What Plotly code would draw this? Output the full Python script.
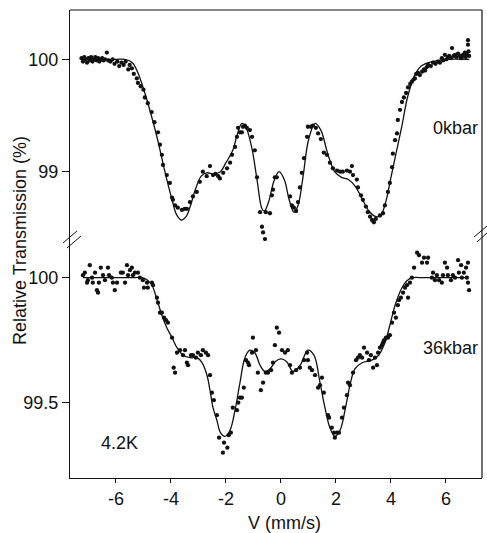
import plotly.graph_objects as go

# ---------------- data: Mössbauer spectra at 4.2 K ----------------
# 0 kbar: measured points
V0 = [-7.25, -7.2, -7.15, -7.1, -7.05, -7.0, -6.95, -6.9, -6.85, -6.8, -6.75, -6.7, -6.65, -6.6,
      -6.55, -6.5, -6.45, -6.4, -6.33, -6.28, -6.2, -6.12, -6.05, -5.95, -5.88, -5.8, -5.72, -5.65,
      -5.55, -5.5, -5.42, -5.35, -5.24, -5.2, -5.1, -5.0, -4.95, -4.84, -4.7, -4.6, -4.47, -4.4,
      -4.33, -4.29, -4.15, -4.04, -3.96, -3.93, -3.85, -3.75, -3.6, -3.5, -3.42, -3.31, -3.2, -3.06,
      -2.95, -2.84, -2.7, -2.58, -2.47, -2.38, -2.28, -2.22, -2.1, -1.96, -1.85, -1.78, -1.67, -1.6,
      -1.56, -1.49, -1.42, -1.38, -1.31, -1.24, -1.13, -1.05, -0.95, -0.87, -0.76, -0.69, -0.65,
      -0.58, -0.55, -0.4, -0.33, -0.29, -0.22, -0.15, 0.33, 0.4, 0.47, 0.55, 0.62, 0.69, 0.76, 0.84,
      0.95, 0.98, 1.09, 1.16, 1.27, 1.35, 1.45, 1.56, 1.67, 1.78, 1.89, 2.04, 2.15, 2.25, 2.4, 2.51,
      2.58, 2.62, 2.76, 2.8, 2.91, 2.98, 3.09, 3.16, 3.24, 3.31, 3.38, 3.45, 3.6, 3.71, 3.78, 3.89,
      3.96, 4.04, 4.07, 4.15, 4.22, 4.25, 4.33, 4.4, 4.47, 4.55, 4.62, 4.7, 4.76, 4.82, 4.87, 4.92,
      4.98, 5.05, 5.13, 5.2, 5.24, 5.3, 5.35, 5.45, 5.53, 5.62, 5.71, 5.78, 5.85, 5.9, 5.96, 6.02,
      6.07, 6.12, 6.18, 6.22, 6.28, 6.33, 6.38, 6.44, 6.5, 6.55, 6.58, 6.62, 6.69, 6.72, 6.76, 6.8,
      6.8, 6.82, 6.84]
T0 = [100.01, 99.98, 100.02, 100.0, 99.97, 100.01, 99.99, 100.02, 99.98, 100.0, 100.02, 99.99,
      100.01, 99.98, 100.0, 100.01, 99.99, 100.0, 100.06, 99.99, 99.98, 100.0, 99.96, 99.98, 99.94,
      99.97, 99.95, 99.98, 99.91, 99.95, 99.92, 99.87, 99.83, 99.79, 99.76, 99.73, 99.66, 99.61,
      99.53, 99.44, 99.35, 99.24, 99.15, 99.06, 98.97, 98.9, 98.77, 98.75, 98.7, 98.68, 98.66,
      98.67, 98.67, 98.73, 98.78, 98.82, 98.91, 99.0, 98.96, 99.05, 98.97, 98.98, 98.96, 98.94,
      98.99, 99.03, 99.08, 99.15, 99.22, 99.31, 99.39, 99.35, 99.35, 99.4, 99.41, 99.39, 99.37,
      99.31, 99.19, 98.95, 98.64, 98.51, 98.46, 98.4, 98.64, 98.63, 98.79, 98.84, 98.95, 98.95,
      98.78, 98.7, 98.68, 98.65, 98.73, 98.86, 98.99, 99.12, 99.31, 99.4, 99.4, 99.41, 99.39, 99.34,
      99.29, 99.17, 99.15, 99.08, 99.03, 99.01, 99.0, 99.0, 99.01, 99.0, 99.05, 98.97, 98.93, 98.86,
      98.79, 98.75, 98.69, 98.64, 98.6, 98.57, 98.55, 98.58, 98.61, 98.63, 98.7, 98.82, 98.9, 99.04,
      99.16, 99.28, 99.34, 99.46, 99.55, 99.62, 99.66, 99.7, 99.75, 99.78, 99.8, 99.82, 99.83,
      99.87, 99.88, 99.86, 99.89, 99.91, 99.9, 99.93, 99.95, 99.94, 99.97, 99.96, 99.98, 99.97,
      100.01, 99.99, 100.04, 100.0, 100.02, 100.03, 100.01, 100.1, 100.03, 100.04, 100.02, 100.05,
      100.03, 100.01, 100.02, 100.04, 100.06, 100.02, 100.04, 100.17, 100.13, 100.07, 100.03]

# 0 kbar: fitted curve
V0_FIT = [-7.25, -6.5, -6.0, -5.67, -5.4, -5.2, -5.0, -4.85, -4.69, -4.47, -4.22, -3.96, -3.8,
          -3.62, -3.45, -3.3, -3.1, -2.9, -2.7, -2.45, -2.2, -2.0, -1.75, -1.6, -1.42, -1.25,
          -1.05, -0.87, -0.69, -0.6, -0.45, -0.25, -0.07, 0.12, 0.3, 0.47, 0.62, 0.8, 1.0, 1.24,
          1.45, 1.7, 1.95, 2.2, 2.45, 2.7, 2.95, 3.2, 3.45, 3.62, 3.8, 4.0, 4.2, 4.4, 4.6, 4.85,
          5.1, 5.5, 6.0, 6.85]
T0_FIT = [100.0, 100.0, 100.0, 100.0, 99.97, 99.88, 99.74, 99.62, 99.48, 99.27, 99.0, 98.75,
          98.62, 98.57, 98.6, 98.69, 98.85, 98.96, 98.99, 98.98, 99.0, 99.08, 99.19, 99.32, 99.43,
          99.38, 99.2, 98.93, 98.67, 98.65, 98.73, 98.92, 99.0, 98.93, 98.75, 98.64, 98.7, 98.95,
          99.28, 99.43, 99.37, 99.16, 99.0, 98.95, 98.93, 98.87, 98.76, 98.65, 98.6, 98.61, 98.72,
          98.95, 99.18, 99.41, 99.66, 99.85, 99.94, 99.98, 100.0, 100.0]

# 36 kbar: measured points
V36 = [-7.2, -7.13, -7.05, -7.02, -6.95, -6.87, -6.84, -6.76, -6.69, -6.65, -6.62, -6.55, -6.47,
       -6.4, -6.29, -6.25, -6.15, -6.11, -6.04, -5.96, -5.82, -5.75, -5.67, -5.6, -5.56, -5.49,
       -5.42, -5.38, -5.31, -5.2, -5.13, -5.02, -4.98, -4.87, -4.84, -4.69, -4.65, -4.51, -4.47,
       -4.4, -4.33, -4.25, -4.18, -4.11, -3.96, -3.9, -3.85, -3.78, -3.67, -3.56, -3.49, -3.42,
       -3.38, -3.27, -3.2, -3.09, -3.02, -2.91, -2.84, -2.73, -2.65, -2.58, -2.51, -2.44, -2.33,
       -2.25, -2.11, -2.07, -1.95, -1.9, -1.82, -1.75, -1.6, -1.55, -1.49, -1.42, -1.35, -1.27,
       -1.2, -1.16, -1.05, -1.02, -0.91, -0.84, -0.73, -0.65, -0.55, -0.47, -0.36, -0.29, -0.22,
       -0.15, -0.07, 0.04, 0.15, 0.25, 0.33, 0.4, 0.55, 0.69, 0.84, 0.95, 0.98, 1.05, 1.13, 1.24,
       1.35, 1.42, 1.49, 1.56, 1.71, 1.75, 1.85, 1.93, 1.96, 2.04, 2.11, 2.22, 2.29, 2.4, 2.44,
       2.51, 2.62, 2.73, 2.8, 2.87, 2.95, 3.02, 3.13, 3.2, 3.27, 3.35, 3.42, 3.49, 3.53, 3.6, 3.67,
       3.71, 3.75, 3.82, 3.89, 3.96, 4.04, 4.11, 4.18, 4.25, 4.29, 4.36, 4.44, 4.51, 4.58, 4.62,
       4.69, 4.76, 4.84, 4.95, 5.02, 5.13, 5.2, 5.31, 5.35, 5.49, 5.53, 5.6, 5.67, 5.75, 5.85, 5.89,
       5.96, 6.04, 6.07, 6.18, 6.25, 6.33, 6.44, 6.47, 6.55, 6.58, 6.65, 6.73, 6.76, 6.8, 6.8, 6.84]
T36 = [100.01, 100.02, 99.98, 99.99, 100.05, 100.0, 99.98, 100.02, 99.95, 99.94, 99.98, 100.04,
       100.01, 99.99, 100.04, 100.01, 100.0, 99.98, 99.95, 99.98, 100.02, 100.02, 99.98, 100.05,
       100.01, 100.03, 100.04, 100.01, 100.02, 100.02, 100.0, 99.99, 99.96, 99.98, 99.96, 99.98,
       99.97, 99.92, 99.9, 99.86, 99.86, 99.84, 99.83, 99.82, 99.76, 99.64, 99.62, 99.7, 99.71,
       99.69, 99.71, 99.66, 99.65, 99.69, 99.69, 99.68, 99.7, 99.69, 99.71, 99.7, 99.69, 99.61,
       99.54, 99.51, 99.45, 99.36, 99.3, 99.34, 99.32, 99.37, 99.38, 99.48, 99.47, 99.5, 99.52,
       99.52, 99.56, 99.67, 99.66, 99.65, 99.7, 99.76, 99.71, 99.62, 99.55, 99.58, 99.62, 99.62,
       99.63, 99.66, 99.73, 99.8, 99.78, 99.71, 99.7, 99.71, 99.65, 99.62, 99.63, 99.64, 99.67,
       99.7, 99.67, 99.64, 99.63, 99.61, 99.56, 99.57, 99.6, 99.54, 99.45, 99.44, 99.4, 99.38,
       99.36, 99.38, 99.38, 99.44, 99.48, 99.53, 99.58, 99.57, 99.62, 99.67, 99.68, 99.69, 99.68,
       99.72, 99.7, 99.67, 99.69, 99.64, 99.68, 99.65, 99.7, 99.72, 99.73, 99.74, 99.75, 99.76,
       99.76, 99.77, 99.82, 99.86, 99.84, 99.89, 99.91, 99.92, 99.94, 99.96, 99.97, 99.92, 99.98,
       100.0, 100.04, 100.1, 100.09, 100.06, 100.08, 100.06, 100.08, 100.0, 100.02, 99.99, 100.01,
       99.99, 99.98, 100.01, 100.06, 100.04, 100.01, 99.99, 100.01, 100.0, 100.07, 100.02, 100.05,
       100.0, 100.02, 100.04, 100.0, 99.98, 100.06, 99.95]

# 36 kbar: fitted curve
V36_FIT = [-7.2, -5.5, -5.05, -4.85, -4.69, -4.5, -4.33, -4.15, -3.96, -3.78, -3.56, -3.3, -3.05,
           -2.87, -2.69, -2.58, -2.47, -2.33, -2.2, -2.04, -1.85, -1.67, -1.49, -1.31, -1.13,
           -0.95, -0.76, -0.58, -0.4, -0.2, 0.0, 0.2, 0.44, 0.7, 0.98, 1.2, 1.42, 1.6, 1.78, 1.96,
           2.15, 2.33, 2.51, 2.69, 2.95, 3.3, 3.55, 3.78, 3.96, 4.15, 4.4, 4.6, 4.8, 5.2, 6.8]
T36_FIT = [100.0, 100.0, 100.0, 99.99, 99.97, 99.91, 99.85, 99.8, 99.76, 99.72, 99.69, 99.68,
           99.68, 99.66, 99.61, 99.55, 99.48, 99.43, 99.38, 99.365, 99.39, 99.47, 99.58, 99.68,
           99.71, 99.7, 99.65, 99.625, 99.635, 99.665, 99.675, 99.665, 99.625, 99.65, 99.71,
           99.69, 99.58, 99.48, 99.4, 99.365, 99.39, 99.47, 99.57, 99.635, 99.66, 99.67, 99.69,
           99.74, 99.81, 99.89, 99.96, 99.99, 100.0, 100.0, 100.0]

X_TICKS = [-6, -4, -2, 0, 2, 4, 6]
X_TICK_TEXT = ["-6", "-4", "-2", "0", "2", "4", "6"]
Y0_TICKS = [99, 100]
Y0_TICK_TEXT = ["99", "100"]
Y36_TICKS = [99.5, 100]
Y36_TICK_TEXT = ["99.5", "100"]

# ---------------- figure ----------------
W, H = 487, 533
ML, MR, MT, MB = 70, 5, 10, 55
PW, PH = W - ML - MR, H - MT - MB
SPLIT = 0.5085          # where the broken ordinate switches between the two spectra
FONT = "Liberation Sans"
INK = "#111111"


def fx(px):
    return (px - ML) / PW


def fy(py):
    return (H - MB - py) / PH


fig = go.Figure()
for v, t, vf, tf, ya in [(V0, T0, V0_FIT, T0_FIT, "y"), (V36, T36, V36_FIT, T36_FIT, "y2")]:
    fig.add_trace(go.Scatter(x=vf, y=tf, mode="lines", yaxis=ya,
                             line=dict(color=INK, width=1.3, shape="spline", smoothing=1.0),
                             hoverinfo="skip"))
    fig.add_trace(go.Scatter(x=v, y=t, mode="markers", yaxis=ya, cliponaxis=False,
                             marker=dict(color=INK, size=4.3, line=dict(width=0))))

axis_common = dict(showgrid=False, zeroline=False, showline=True, linecolor=INK, linewidth=1.2,
                   ticks="outside", tickcolor=INK, tickwidth=1.2,
                   tickfont=dict(family=FONT, size=18, color=INK))

fig.update_layout(
    width=W, height=H, margin=dict(l=ML, r=MR, t=MT, b=MB),
    paper_bgcolor="white", plot_bgcolor="white", showlegend=False,
    xaxis=dict(range=[-7.67, 7.31], anchor="y2", tickvals=X_TICKS, ticktext=X_TICK_TEXT,
               ticklen=4, **axis_common),
    yaxis=dict(domain=[SPLIT, 1], range=[98.392, 100.4386], anchor="x",
               tickvals=Y0_TICKS, ticktext=Y0_TICK_TEXT, ticklen=7, **axis_common),
    yaxis2=dict(domain=[0, SPLIT], range=[99.1988, 100.1508], anchor="x",
                tickvals=Y36_TICKS, ticktext=Y36_TICK_TEXT, ticklen=7, **axis_common),
)

# frame and axis-break marks
line = dict(color=INK, width=1.2)
shapes = [dict(type="line", xref="paper", yref="paper", x0=0, x1=1, y0=1, y1=1, line=line),
          dict(type="line", xref="paper", yref="paper", x0=1, x1=1, y0=0, y1=1, line=line)]
for (xa, ya_, xb, yb) in [(63, 243, 77, 231), (67, 248, 81, 236),
                          (474, 237, 487, 226), (477, 242, 487, 233)]:
    shapes.append(dict(type="line", xref="paper", yref="paper",
                       x0=fx(xa), y0=fy(ya_), x1=fx(xb), y1=fy(yb), line=dict(color=INK, width=1)))
fig.update_layout(shapes=shapes)

txt = dict(family=FONT, size=18, color=INK)
fig.add_annotation(text="Relative Transmission (%)", xref="paper", yref="paper",
                   x=fx(20), y=fy(241), textangle=-90, showarrow=False, font=txt,
                   xanchor="center", yanchor="middle")
fig.add_annotation(text="V (mm/s)", xref="paper", yref="paper", x=fx(284), y=fy(523),
                   showarrow=False, font=txt, xanchor="center", yanchor="middle")
fig.add_annotation(text="0kbar", xref="paper", yref="paper", x=fx(480), y=fy(128),
                   showarrow=False, font=txt, xanchor="right", yanchor="middle")
fig.add_annotation(text="36kbar", xref="paper", yref="paper", x=fx(480), y=fy(348),
                   showarrow=False, font=txt, xanchor="right", yanchor="middle")
fig.add_annotation(text="4.2K", xref="paper", yref="paper", x=fx(99), y=fy(443),
                   showarrow=False, font=txt, xanchor="left", yanchor="middle")

fig.write_html("out.html")
